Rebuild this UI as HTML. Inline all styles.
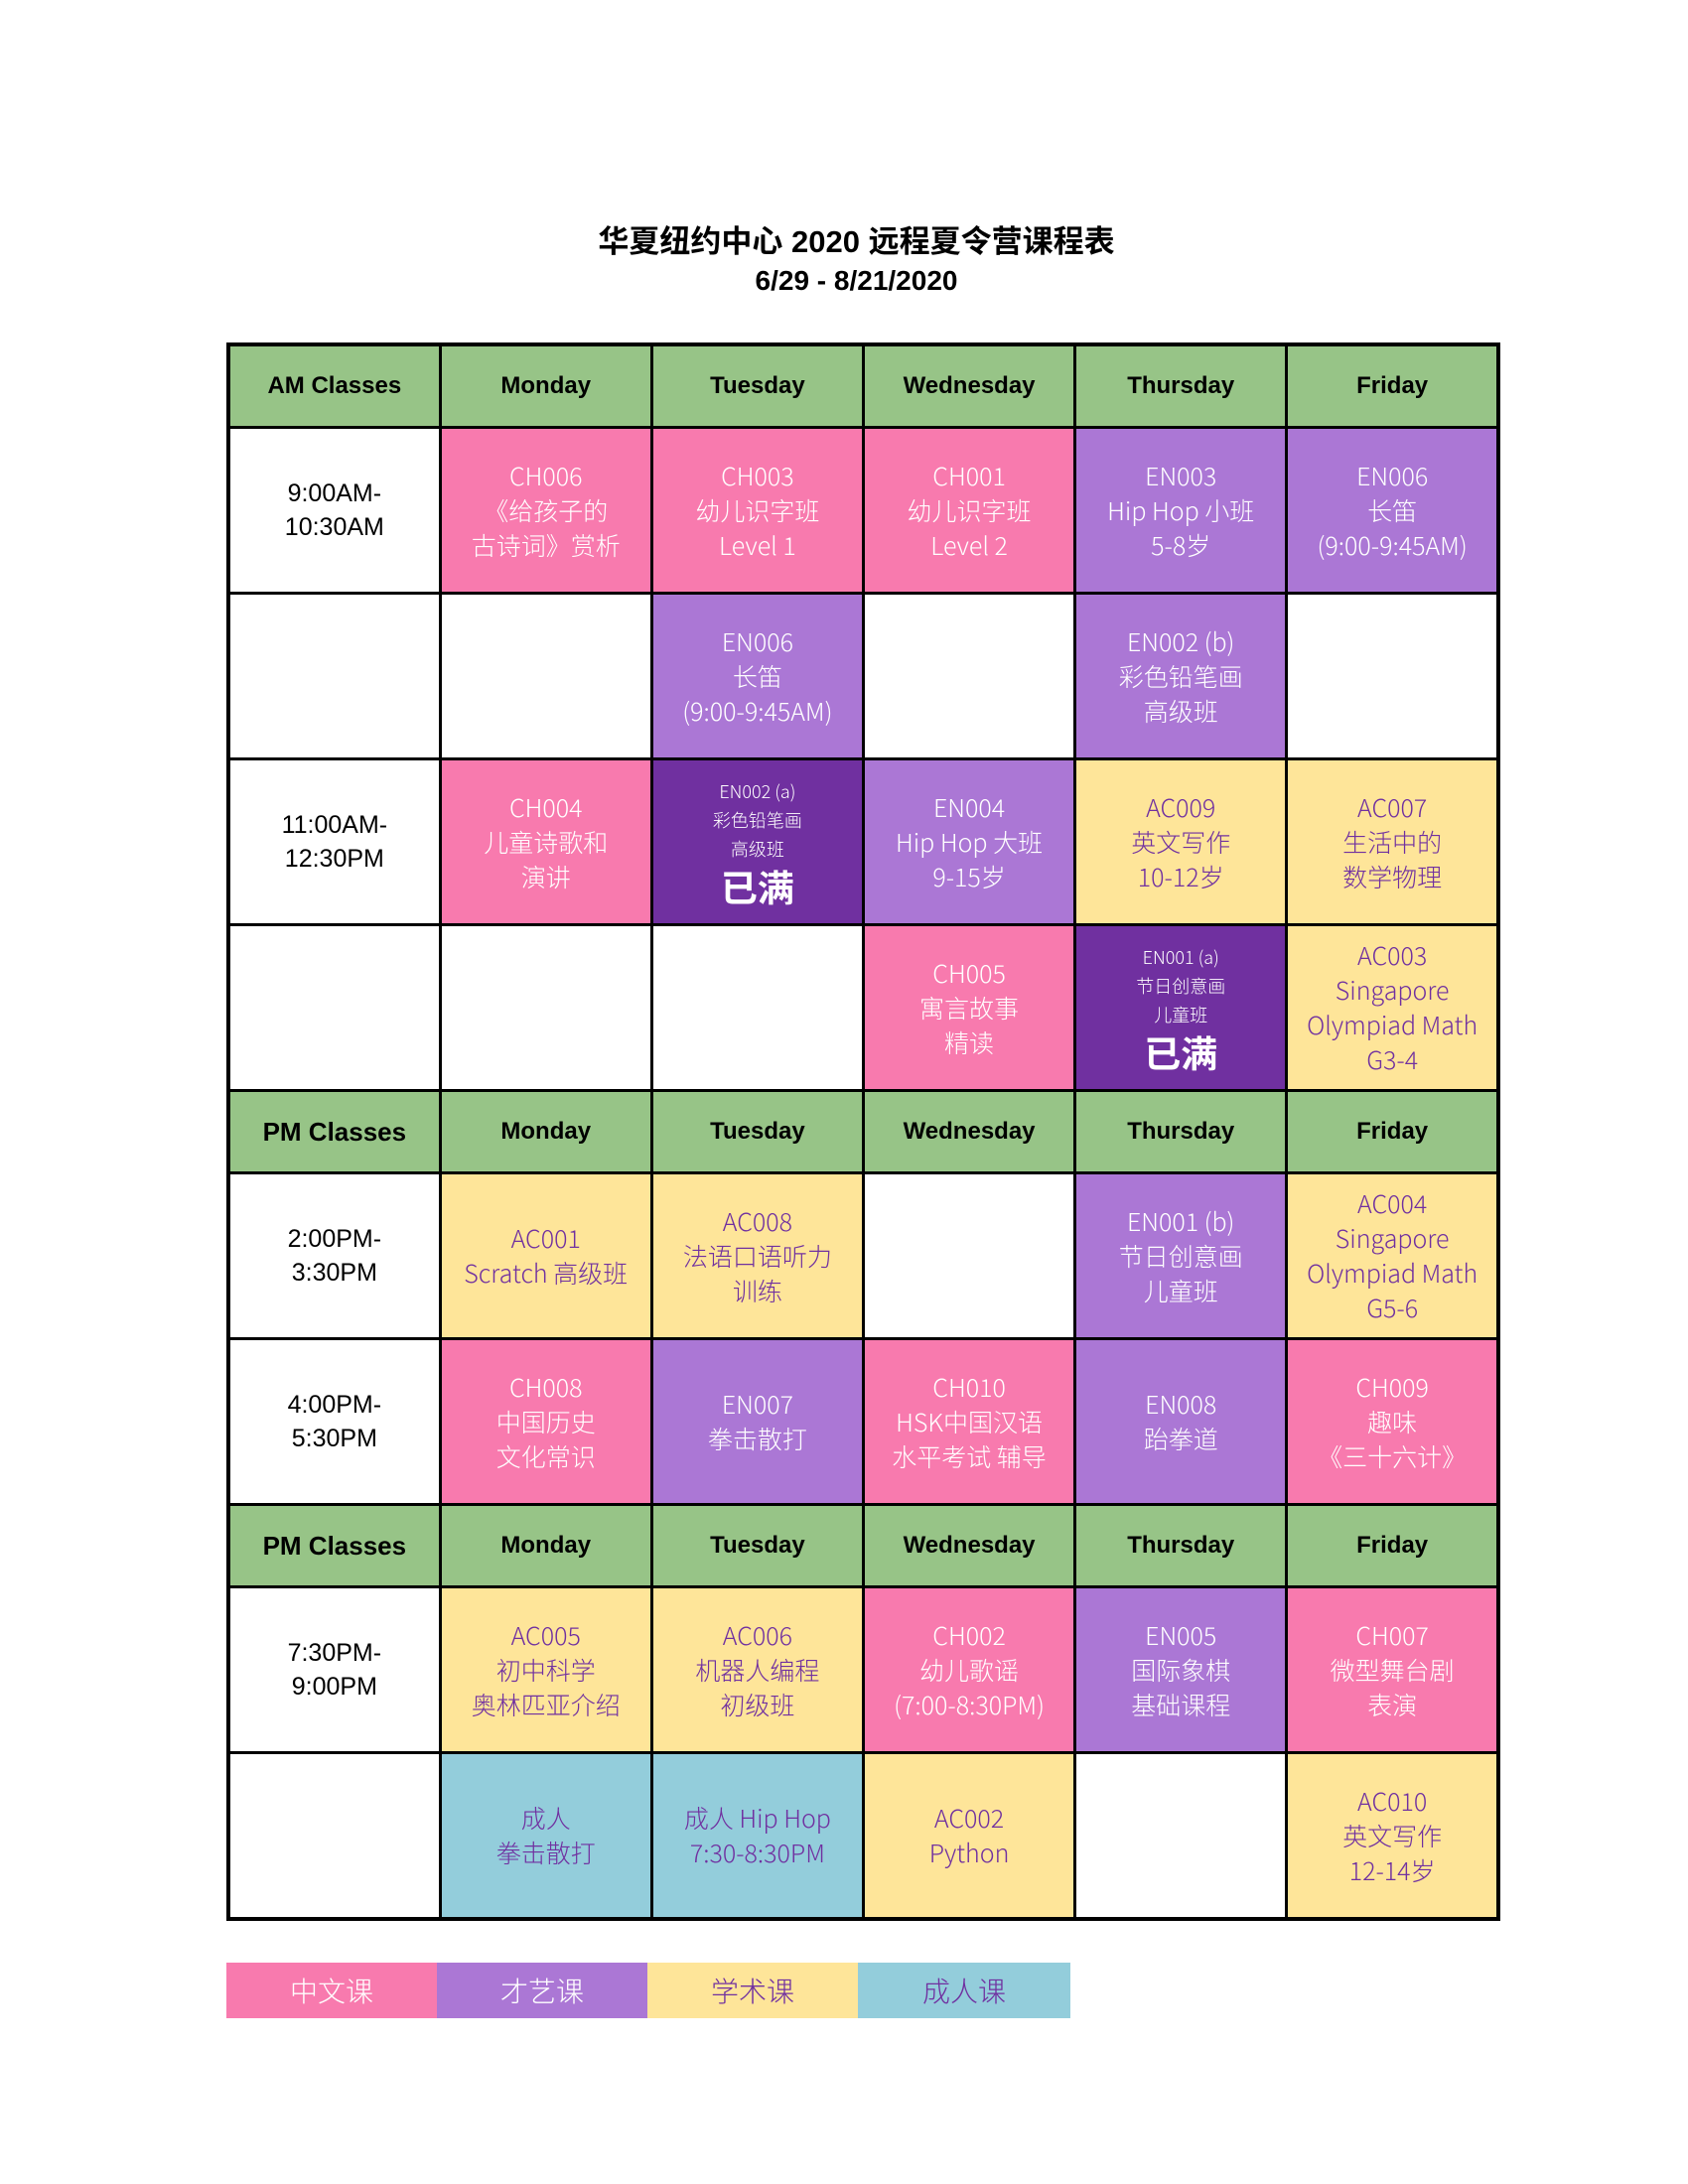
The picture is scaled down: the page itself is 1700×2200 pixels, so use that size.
<!DOCTYPE html>
<html><head><meta charset="utf-8">
<style>
html,body{margin:0;padding:0;background:#fff;width:1700px;height:2200px;overflow:hidden;position:relative}
.t1{position:absolute;top:218px;left:0;width:1725px;text-align:center;font:bold 31px "Liberation Sans","Noto Sans CJK SC",sans-serif;color:#000}
.t2{position:absolute;top:267px;left:0;width:1725px;text-align:center;font:bold 28px "Liberation Sans",sans-serif;color:#000}
table{position:absolute;left:228px;top:345px;width:1283px;border-collapse:collapse;table-layout:fixed;border:4px solid #000}
td{border:3px solid #000;text-align:center;vertical-align:middle;padding:0;font:300 25px/35px "Noto Sans CJK SC",sans-serif;overflow:hidden}
tr.h td{height:80px;background:#97c487;font:bold 24px "Liberation Sans",sans-serif;color:#000}
tr.h td.hl{font-size:26px}
tr.b td{height:164px}
td.tm{font:25px/34px "Liberation Sans",sans-serif;color:#000}
.p{background:#f87aae;color:#fff}
.v{background:#ab77d5;color:#fff}
.y{background:#fee599;color:#7030a0}
.c{background:#93cddb;color:#7030a0}
.d{background:#7030a0;color:#fff;font-size:18px!important;line-height:29px!important}
.d b{display:block;font:bold 37px/44px "Noto Sans CJK SC",sans-serif}
.leg{position:absolute;top:1977px;height:56px;width:212px;text-align:center;font:300 28px/56px "Noto Sans CJK SC",sans-serif}
</style></head><body>
<div class="t1">华夏纽约中心 2020 远程夏令营课程表</div>
<div class="t2">6/29 - 8/21/2020</div>
<table>
<tr class="h"><td>AM Classes</td><td>Monday</td><td>Tuesday</td><td>Wednesday</td><td>Thursday</td><td>Friday</td></tr>
<tr class="b"><td class="tm">9:00AM-<br>10:30AM</td><td class="p">CH006<br>《给孩子的<br>古诗词》赏析</td><td class="p">CH003<br>幼儿识字班<br>Level 1</td><td class="p">CH001<br>幼儿识字班<br>Level 2</td><td class="v">EN003<br>Hip Hop 小班<br>5-8岁</td><td class="v">EN006<br>长笛<br>(9:00-9:45AM)</td></tr>
<tr class="b"><td></td><td></td><td class="v">EN006<br>长笛<br>(9:00-9:45AM)</td><td></td><td class="v">EN002 (b)<br>彩色铅笔画<br>高级班</td><td></td></tr>
<tr class="b"><td class="tm">11:00AM-<br>12:30PM</td><td class="p">CH004<br>儿童诗歌和<br>演讲</td><td class="d">EN002 (a)<br>彩色铅笔画<br>高级班<b>已满</b></td><td class="v">EN004<br>Hip Hop 大班<br>9-15岁</td><td class="y">AC009<br>英文写作<br>10-12岁</td><td class="y">AC007<br>生活中的<br>数学物理</td></tr>
<tr class="b"><td></td><td></td><td></td><td class="p">CH005<br>寓言故事<br>精读</td><td class="d">EN001 (a)<br>节日创意画<br>儿童班<b>已满</b></td><td class="y">AC003<br>Singapore<br>Olympiad Math<br>G3-4</td></tr>
<tr class="h"><td class="hl">PM Classes</td><td>Monday</td><td>Tuesday</td><td>Wednesday</td><td>Thursday</td><td>Friday</td></tr>
<tr class="b"><td class="tm">2:00PM-<br>3:30PM</td><td class="y">AC001<br>Scratch 高级班</td><td class="y">AC008<br>法语口语听力<br>训练</td><td></td><td class="v">EN001 (b)<br>节日创意画<br>儿童班</td><td class="y">AC004<br>Singapore<br>Olympiad Math<br>G5-6</td></tr>
<tr class="b"><td class="tm">4:00PM-<br>5:30PM</td><td class="p">CH008<br>中国历史<br>文化常识</td><td class="v">EN007<br>拳击散打</td><td class="p">CH010<br>HSK中国汉语<br>水平考试 辅导</td><td class="v">EN008<br>跆拳道</td><td class="p">CH009<br>趣味<br>《三十六计》</td></tr>
<tr class="h"><td class="hl">PM Classes</td><td>Monday</td><td>Tuesday</td><td>Wednesday</td><td>Thursday</td><td>Friday</td></tr>
<tr class="b"><td class="tm">7:30PM-<br>9:00PM</td><td class="y">AC005<br>初中科学<br>奥林匹亚介绍</td><td class="y">AC006<br>机器人编程<br>初级班</td><td class="p">CH002<br>幼儿歌谣<br>(7:00-8:30PM)</td><td class="v">EN005<br>国际象棋<br>基础课程</td><td class="p">CH007<br>微型舞台剧<br>表演</td></tr>
<tr class="b"><td></td><td class="c">成人<br>拳击散打</td><td class="c">成人 Hip Hop<br>7:30-8:30PM</td><td class="y">AC002<br>Python</td><td></td><td class="y">AC010<br>英文写作<br>12-14岁</td></tr>
</table>
<div class="leg p" style="left:228px">中文课</div>
<div class="leg v" style="left:440px">才艺课</div>
<div class="leg y" style="left:652px">学术课</div>
<div class="leg c" style="left:864px;width:214px">成人课</div>
</body></html>
